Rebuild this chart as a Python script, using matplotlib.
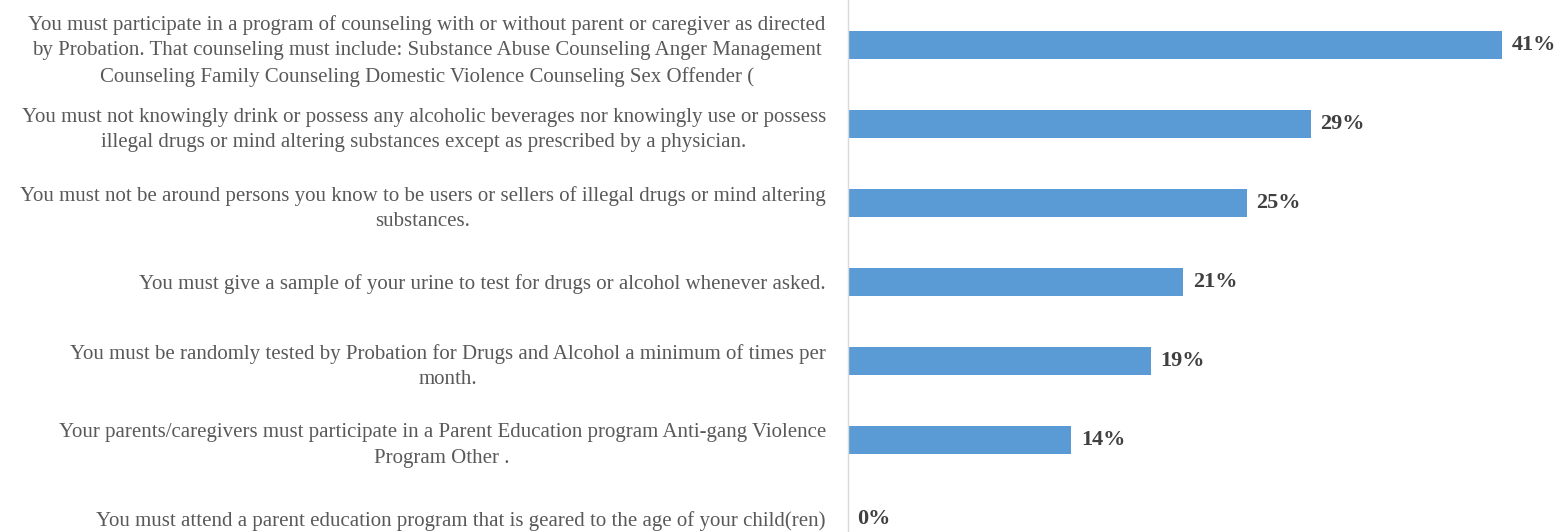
import matplotlib
matplotlib.use("Agg")
import matplotlib.pyplot as plt

# conditions, top to bottom as shown in the chart
conditions = [
    "You must participate in a program of counseling with or without parent or caregiver as directed\n"
    "by Probation. That counseling must include: Substance Abuse Counseling Anger Management\n"
    "Counseling Family Counseling Domestic Violence Counseling Sex Offender (",
    "You must not knowingly drink or possess any alcoholic beverages nor knowingly use or possess\n"
    "illegal drugs or mind altering substances except as prescribed by a physician.",
    "You must not be around persons you know to be users or sellers of illegal drugs or mind altering\n"
    "substances.",
    "You must give a sample of your urine to test for drugs or alcohol whenever asked.",
    "You must be randomly tested by Probation for Drugs and Alcohol a minimum of times per\n"
    "month.",
    "Your parents/caregivers must participate in a Parent Education program Anti-gang Violence\n"
    "Program Other .",
    "You must attend a parent education program that is geared to the age of your child(ren)",
]
shares = [41, 29, 25, 21, 19, 14, 0]

bar_color = "#5B9BD5"
label_color = "#595959"
value_color = "#404040"

fig = plt.figure(figsize=(15.66, 5.32), dpi=100)
ax = fig.add_axes([0.5415, 0.0, 0.4585, 1.0])

ypos = list(range(len(shares)))
ax.barh(ypos, shares, height=0.355, color=bar_color)

for y, v in zip(ypos, shares):
    ax.text(v + 0.6, y, f"{v}%", va="center", ha="left",
            fontsize=16, fontweight="bold", color=value_color,
            family="Liberation Serif")

ax.set_xlim(0, 45)
ax.set_ylim(6.165, -0.57)
ax.set_yticks(ypos)
ax.set_yticklabels(conditions, multialignment="center", fontsize=15,
                   linespacing=1.45, color=label_color, family="Liberation Serif")
ax.tick_params(axis="y", length=0, pad=16)
ax.set_xticks([])

for side in ["top", "right", "bottom"]:
    ax.spines[side].set_visible(False)
ax.spines["left"].set_color("#D9D9D9")
ax.spines["left"].set_linewidth(1.0)

fig.savefig("out.png", dpi=100)
